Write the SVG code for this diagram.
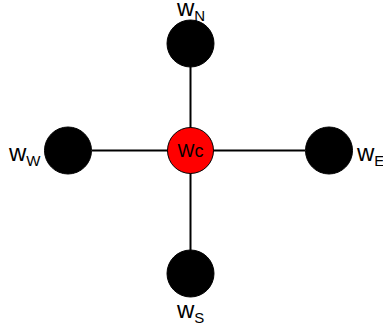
<svg xmlns="http://www.w3.org/2000/svg" width="383" height="331" viewBox="0 0 383 331">
<style>
.edge{stroke:#000;stroke-width:2;fill:none}
.n{fill:#000;stroke:#000;stroke-width:1}
.c{fill:#ff0000;stroke:#000;stroke-width:1}
.lbl{font-family:"Liberation Sans",Arial,sans-serif;font-size:24px;fill:#000}
.sub{font-size:15px}
.cl{font-family:"Liberation Sans",Arial,sans-serif;font-size:18px;fill:#000;text-anchor:middle}
</style>
<rect width="383" height="331" fill="#fff"/>
<g id="connectors">
<line class="edge" x1="190.5" y1="67" x2="190.5" y2="250"/>
<line class="edge" x1="92" y1="150.5" x2="305" y2="150.5"/>
</g>
<g id="wN">
<circle class="n" cx="190.5" cy="43.5" r="23.5"/>
<text class="lbl" x="177" y="16">w<tspan class="sub" dy="5">N</tspan></text>
</g>
<g id="wW">
<circle class="n" cx="68" cy="150.5" r="23.5"/>
<text class="lbl" x="9" y="161">w<tspan class="sub" dy="5">W</tspan></text>
</g>
<g id="wE">
<circle class="n" cx="329" cy="150.5" r="23.5"/>
<text class="lbl" x="357" y="161">w<tspan class="sub" dy="5">E</tspan></text>
</g>
<g id="wS">
<circle class="n" cx="190.5" cy="273.5" r="23.5"/>
<text class="lbl" x="177" y="318">w<tspan class="sub" dy="5">S</tspan></text>
</g>
<g id="wC">
<circle class="c" cx="190.5" cy="150.5" r="23"/>
<text class="cl" x="190.5" y="157">Wc</text>
</g>
</svg>
